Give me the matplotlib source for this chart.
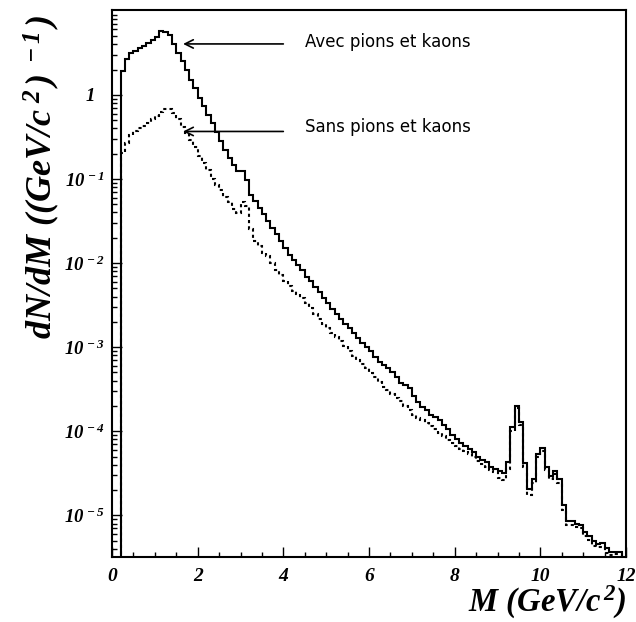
"""
dN/dM dimuon mass spectrum, with and without pion/kaon decays.
"""

import numpy as np
import matplotlib.pyplot as plt
from matplotlib.ticker import MultipleLocator, LogLocator, NullFormatter

plt.rcParams["mathtext.fontset"] = "custom"
plt.rcParams["mathtext.rm"] = "Liberation Serif:italic:bold"
plt.rcParams["mathtext.it"] = "Liberation Serif:italic:bold"
plt.rcParams["mathtext.bf"] = "Liberation Serif:italic:bold"

# ============================================================
# Data (0.1 GeV/c^2 bins from 0 to 12)
# ============================================================
MASS_EDGES = np.round(np.arange(0, 12.05, 0.1), 1)

AVEC = [
    0, 0, 1.94, 2.67, 3.13, 3.35, 3.61, 3.81, 4.10, 4.49,
    4.92, 5.70, 5.58, 5.11, 4.03, 3.18, 2.51, 1.98, 1.51, 1.20,
    0.914, 0.741, 0.579, 0.461, 0.361, 0.280, 0.223, 0.177, 0.148, 0.123,
    0.124, 0.0982, 0.0652, 0.0543, 0.0453, 0.0380, 0.0316, 0.0263, 0.0219, 0.0182,
    0.0151, 0.0126, 0.0110, 0.00955, 0.00832, 0.00692, 0.00617, 0.00513, 0.00447, 0.00389,
    0.00339, 0.00288, 0.00251, 0.00219, 0.00191, 0.00170, 0.00148, 0.00129, 0.00112, 0.00100,
    8.91e-4, 7.59e-4, 6.61e-4, 6.17e-4, 5.62e-4, 5.01e-4, 4.37e-4, 3.72e-4, 3.55e-4, 3.31e-4,
    2.63e-4, 2.24e-4, 1.95e-4, 1.78e-4, 1.58e-4, 1.48e-4, 1.35e-4, 1.20e-4, 1.05e-4, 9.12e-5,
    8.13e-5, 7.24e-5, 6.61e-5, 6.17e-5, 5.62e-5, 5.01e-5, 4.57e-5, 4.37e-5, 3.80e-5, 3.55e-5,
    3.39e-5, 3.16e-5, 4.37e-5, 1.12e-4, 2.00e-4, 1.29e-4, 4.17e-5, 2.04e-5, 2.69e-5, 5.37e-5,
    6.31e-5, 3.72e-5, 2.95e-5, 3.39e-5, 2.69e-5, 1.32e-5, 8.51e-6, 8.51e-6, 7.94e-6, 7.76e-6,
    6.31e-6, 5.75e-6, 4.90e-6, 4.57e-6, 4.68e-6, 4.07e-6, 3.63e-6, 3.63e-6, 3.72e-6, 0,
]

SANS = [
    0, 0, 0.204, 0.267, 0.336, 0.367, 0.403, 0.429, 0.461, 0.515,
    0.564, 0.617, 0.676, 0.670, 0.607, 0.515, 0.414, 0.352, 0.292, 0.240,
    0.186, 0.155, 0.129, 0.100, 0.0851, 0.0741, 0.0617, 0.0525, 0.0437, 0.0398,
    0.0537, 0.0479, 0.0251, 0.0182, 0.0158, 0.0132, 0.0120, 0.0100, 0.00832, 0.00724,
    0.00617, 0.00537, 0.00468, 0.00427, 0.00380, 0.00339, 0.00295, 0.00251, 0.00219, 0.00191,
    0.00170, 0.00148, 0.00132, 0.00117, 0.00102, 8.91e-4, 7.94e-4, 7.08e-4, 6.31e-4, 5.62e-4,
    4.90e-4, 4.37e-4, 3.89e-4, 3.39e-4, 3.09e-4, 2.75e-4, 2.51e-4, 2.29e-4, 2.00e-4, 1.78e-4,
    1.58e-4, 1.45e-4, 1.35e-4, 1.26e-4, 1.15e-4, 1.05e-4, 9.55e-5, 8.71e-5, 7.94e-5, 7.24e-5,
    6.76e-5, 6.17e-5, 5.75e-5, 5.37e-5, 5.01e-5, 4.47e-5, 4.07e-5, 3.72e-5, 3.47e-5, 3.31e-5,
    2.82e-5, 2.63e-5, 3.55e-5, 1.00e-4, 1.91e-4, 1.20e-4, 3.80e-5, 1.74e-5, 2.40e-5, 5.01e-5,
    5.89e-5, 3.47e-5, 2.69e-5, 3.09e-5, 2.40e-5, 1.17e-5, 7.59e-6, 7.76e-6, 7.24e-6, 7.08e-6,
    5.75e-6, 5.13e-6, 4.37e-6, 4.17e-6, 4.17e-6, 3.55e-6, 3.40e-6, 3.45e-6, 3.50e-6, 0,
]

Y_TICKS = [1e-5, 1e-4, 1e-3, 1e-2, 1e-1, 1]
Y_TICK_LABELS = [r"$\mathbf{10^{\,-5}}$", r"$\mathbf{10^{\,-4}}$", r"$\mathbf{10^{\,-3}}$",
                 r"$\mathbf{10^{\,-2}}$", r"$\mathbf{10^{\,-1}}$", "1  "]
X_TICKS = [0, 2, 4, 6, 8, 10, 12]

LABEL_AVEC = "Avec pions et kaons"
LABEL_SANS = "Sans pions et kaons"

SERIF = dict(family="Liberation Serif", weight="bold", style="italic")

# ============================================================
# Figure
# ============================================================
fig = plt.figure(figsize=(6.36, 6.22), dpi=100)
ax = fig.add_axes([0.1761, 0.1045, 0.8082, 0.8794])

ax.stairs(AVEC, MASS_EDGES, color="black", linewidth=1.5, baseline=None)
ax.stairs(SANS, MASS_EDGES, color="black", linewidth=1.5,
          linestyle=(0, (1.5, 1.5)), baseline=None)

ax.set_yscale("log")
ax.set_xlim(0, 12)
ax.set_ylim(3.2e-6, 10.2)

# ticks
ax.set_xticks(X_TICKS)
ax.set_xticklabels([str(t) for t in X_TICKS], fontsize=14, **SERIF)
ax.xaxis.set_minor_locator(MultipleLocator(0.5))
ax.set_yticks(Y_TICKS)
ax.set_yticklabels(Y_TICK_LABELS, fontsize=13.5, **SERIF)
ax.yaxis.set_minor_locator(LogLocator(base=10, subs=range(2, 10), numticks=20))
ax.yaxis.set_minor_formatter(NullFormatter())
ax.tick_params(which="both", direction="in", top=False, right=False, width=1)
ax.tick_params(which="major", length=7.5)
ax.tick_params(which="minor", length=3.8)
ax.tick_params(axis="x", pad=8)
ax.tick_params(axis="y", pad=5)
for sp in ax.spines.values():
    sp.set_linewidth(1.5)

ax.set_xlabel(r"M (GeV/c$^{\,2}$)", fontsize=23.5, loc="right", **SERIF)
ax.xaxis.set_label_coords(1.0, -0.05)
ax.set_ylabel(r"dN/dM ((GeV/c$^{\ 2\,}$)$^{\ -1\,}$)", fontsize=26, loc="top", **SERIF)
ax.yaxis.set_label_coords(-0.097, 0.99)

# arrows and annotations
arrow = dict(arrowstyle="->,head_length=0.6,head_width=0.3", color="black",
             lw=1.2, shrinkA=0, shrinkB=0)
ax.annotate("", xy=(1.66, 4.03), xytext=(4.0, 4.03), arrowprops=arrow)
ax.annotate("", xy=(1.66, 0.367), xytext=(4.0, 0.367), arrowprops=arrow)
ax.text(4.51, 4.28, LABEL_AVEC, fontsize=12, ha="left", va="center", family="DejaVu Sans")
ax.text(4.51, 0.42, LABEL_SANS, fontsize=12, ha="left", va="center", family="DejaVu Sans")

fig.savefig("out.png", dpi=100)
